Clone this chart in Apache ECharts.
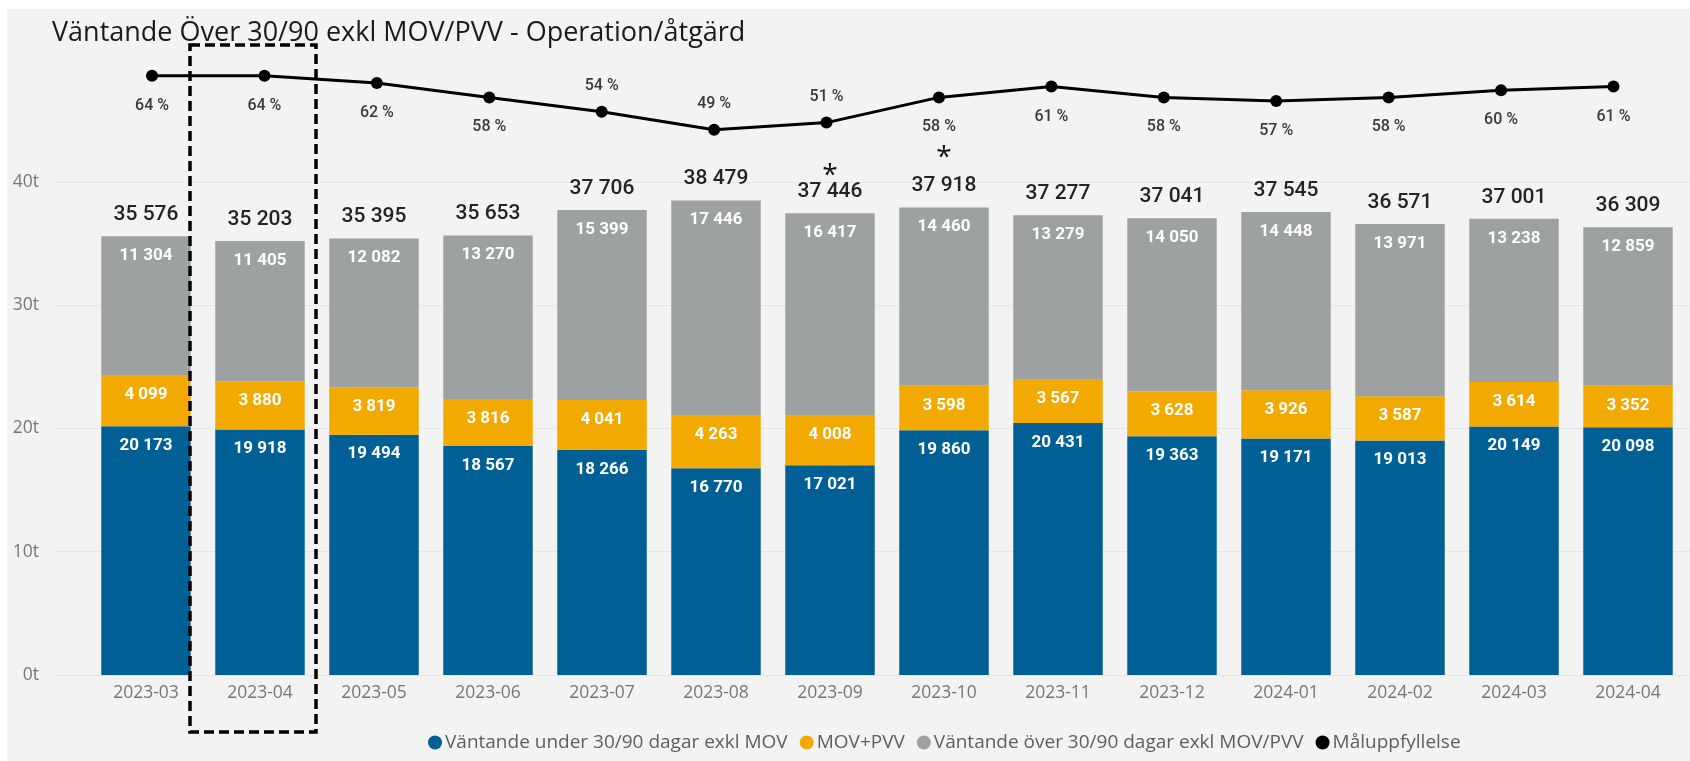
<!DOCTYPE html>
<html>
<head>
<meta charset="utf-8">
<script src="https://cdn.jsdelivr.net/npm/echarts@6/dist/echarts.min.js"></script>
<style>
  html, body { margin: 0; padding: 0; background: #ffffff; }
  #main { width: 1690px; height: 761px; }
</style>
</head>
<body>
<div id="main"></div>
<script>
// månader
const categories = ['2023-03', '2023-04', '2023-05', '2023-06', '2023-07', '2023-08', '2023-09',
  '2023-10', '2023-11', '2023-12', '2024-01', '2024-02', '2024-03', '2024-04']
// Väntande under 30/90 dagar exkl MOV
const underValues = [20173, 19918, 19494, 18567, 18266, 16770, 17021, 19860, 20431, 19363, 19171, 19013, 20149, 20098]
// MOV+PVV
const movPvvValues = [4099, 3880, 3819, 3816, 4041, 4263, 4008, 3598, 3567, 3628, 3926, 3587, 3614, 3352]
// Väntande över 30/90 dagar exkl MOV/PVV
const overValues = [11304, 11405, 12082, 13270, 15399, 17446, 16417, 14460, 13279, 14050, 14448, 13971, 13238, 12859]
// totalsummor
const totalValues = [35576, 35203, 35395, 35653, 37706, 38479, 37446, 37918, 37277, 37041, 37545, 36571, 37001, 36309]
// Måluppfyllelse (%)
const goalPct = [64, 64, 62, 58, 54, 49, 51, 58, 61, 58, 57, 58, 60, 61]
const yTicks = [0, 10000, 20000, 30000, 40000]

// etiketter ovanför linjen, stjärnmarkeringar
const pctLabelAbove = ['2023-07', '2023-08', '2023-09']
const starNotes = { '2023-09': 's1', '2023-10': 's2' }
const markedMonth = '2023-04'

const chart = echarts.init(document.getElementById('main'))

const numFont = 'Roboto, "DejaVu Sans", sans-serif'
const uiFont = '"Segoe UI", "Open Sans", sans-serif'

function fmt(v) {
  return String(v).replace(/\B(?=(\d{3})+(?!\d))/g, ' ')
}

const gridTop = 58.5
const gridBottom = 86

const insideLabel = {
  show: true,
  position: 'insideTop',
  distance: 11,
  color: '#ffffff',
  fontFamily: numFont,
  fontWeight: 'bold',
  fontSize: 17,
  formatter: p => fmt(p.value)
}

chart.setOption({
  backgroundColor: '#ffffff',
  animation: false,
  title: {
    text: 'Väntande Över 30/90 exkl MOV/PVV - Operation/åtgärd',
    left: 47,
    top: 15,
    textStyle: {
      fontFamily: uiFont,
      fontWeight: 'normal',
      fontSize: 27,
      color: '#1a1a1a'
    }
  },
  legend: {
    left: 423,
    top: 728,
    icon: 'circle',
    itemWidth: 14,
    itemHeight: 14,
    itemGap: 12,
    textStyle: {
      fontFamily: uiFont,
      fontSize: 19,
      color: '#605e5c',
      padding: [0, 0, 0, -2]
    },
    data: [
      'Väntande under 30/90 dagar exkl MOV',
      'MOV+PVV',
      'Väntande över 30/90 dagar exkl MOV/PVV',
      'Måluppfyllelse'
    ]
  },
  grid: [
    // axel och stödlinjer
    { left: 55, right: 0, top: 181.8, bottom: gridBottom },
    // staplar
    { left: 89, right: 5, top: gridTop, bottom: gridBottom },
    // linje
    { left: 95.8, right: 20.3, top: gridTop, bottom: gridBottom }
  ],
  xAxis: [
    { gridIndex: 0, type: 'value', min: 0, max: 1, show: false },
    {
      gridIndex: 1,
      type: 'category',
      data: categories,
      axisLine: { show: false },
      axisTick: { show: false },
      axisLabel: {
        color: '#777777',
        fontFamily: uiFont,
        fontSize: 17.5,
        margin: 9
      }
    },
    { gridIndex: 2, type: 'category', data: categories, show: false }
  ],
  yAxis: [
    {
      gridIndex: 0,
      type: 'value',
      min: yTicks[0],
      max: yTicks[yTicks.length - 1],
      interval: yTicks[1] - yTicks[0],
      axisLine: { show: false },
      axisTick: { show: false },
      splitLine: { lineStyle: { color: '#e6e6e6', width: 1 } },
      axisLabel: {
        color: '#777777',
        fontFamily: uiFont,
        fontSize: 17.5,
        margin: 16,
        formatter: v => (v / 1000) + 't'
      }
    },
    { gridIndex: 1, type: 'value', min: 0, max: 50000, show: false },
    { gridIndex: 2, type: 'value', min: -102.4, max: 68.8, show: false }
  ],
  series: [
    {
      name: 'Väntande under 30/90 dagar exkl MOV',
      type: 'bar',
      stack: 'total',
      xAxisIndex: 1,
      yAxisIndex: 1,
      barCategoryGap: '21.5%',
      itemStyle: { color: '#006096' },
      label: insideLabel,
      data: underValues
    },
    {
      name: 'MOV+PVV',
      type: 'bar',
      stack: 'total',
      xAxisIndex: 1,
      yAxisIndex: 1,
      itemStyle: { color: '#f2aa00' },
      label: insideLabel,
      data: movPvvValues
    },
    {
      name: 'Väntande över 30/90 dagar exkl MOV/PVV',
      type: 'bar',
      stack: 'total',
      xAxisIndex: 1,
      yAxisIndex: 1,
      itemStyle: { color: '#9ea1a2' },
      label: insideLabel,
      data: overValues
    },
    {
      name: 'Totalt',
      type: 'line',
      xAxisIndex: 1,
      yAxisIndex: 1,
      symbol: 'circle',
      symbolSize: 1,
      itemStyle: { color: 'rgba(0,0,0,0)' },
      lineStyle: { opacity: 0 },
      z: 5,
      label: {
        show: true,
        position: 'top',
        distance: 10,
        formatter: p => {
          const note = starNotes[p.name]
          const txt = '{v|' + fmt(p.value) + '}'
          return note ? '{' + note + '|*}\n' + txt : txt
        },
        rich: {
          v: { fontFamily: numFont, fontWeight: 500, fontSize: 21, color: '#252423', lineHeight: 22 },
          s1: { fontFamily: uiFont, fontSize: 28, color: '#111111', lineHeight: 10 },
          s2: { fontFamily: uiFont, fontSize: 28, color: '#111111', lineHeight: 34 }
        }
      },
      data: totalValues
    },
    {
      name: 'Måluppfyllelse',
      type: 'line',
      xAxisIndex: 2,
      yAxisIndex: 2,
      symbol: 'circle',
      symbolSize: 12,
      z: 6,
      itemStyle: { color: '#000000' },
      lineStyle: { color: '#000000', width: 3 },
      label: {
        show: true,
        fontFamily: numFont,
        fontWeight: 500,
        fontSize: 16,
        color: '#3b3a39',
        formatter: p => p.value + ' %'
      },
      data: goalPct.map((v, i) => ({
        value: v,
        label: pctLabelAbove.includes(categories[i])
          ? { position: 'top', distance: 12 }
          : { position: 'bottom', distance: 16 }
      }))
    }
  ]
})

// ljusgrå panel och streckad markering runt vald månad
const cx = chart.convertToPixel({ xAxisIndex: 1 }, markedMonth)
chart.setOption({
  graphic: [
    {
      type: 'rect',
      z: -10,
      silent: true,
      shape: { x: 7, y: 9, width: 1690, height: 761 },
      style: { fill: '#f3f3f3' }
    },
    {
      type: 'rect',
      z: 100,
      silent: true,
      shape: { x: cx - 70, y: 45, width: 126, height: 687 },
      style: { fill: 'none', stroke: '#000000', lineWidth: 3.5, lineDash: [10, 5] }
    }
  ]
})
</script>
</body>
</html>
